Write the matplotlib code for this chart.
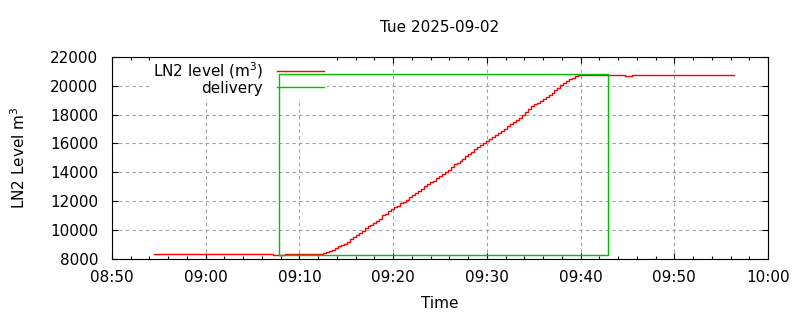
import datetime as dt
import matplotlib
matplotlib.use("Agg")
import matplotlib.pyplot as plt
import matplotlib.dates as mdates
from matplotlib.lines import Line2D

DAY = "2025-09-02"

# LN2 level before the fill (time, m3)
pre_times = ["08:54:29", "09:07:13", "09:08:28"]
pre_values = [8320, 8250, 8320]

# filling ramp, one reading every ~19 s
ramp_start = "09:12:31"
ramp_step_s = 19
ramp_values = [
    8416, 8508, 8577, 8647, 8762, 8878, 8993, 9062, 9201, 9363,
    9501, 9640, 9779, 9963, 10125, 10287, 10356, 10495, 10634, 10795,
    11026, 11141, 11303, 11465, 11603, 11696, 11858, 11950, 12066, 12274,
    12436, 12597, 12736, 12875, 13082, 13198, 13336, 13428, 13613, 13729,
    13867, 14006, 14145, 14376, 14560, 14676, 14814, 14953, 15138, 15277,
    15415, 15600, 15739, 15923, 16062, 16201, 16339, 16478, 16617, 16709,
    16894, 17033, 17218, 17333, 17517, 17656, 17794, 18002, 18187, 18395,
    18580, 18719, 18834, 18972, 19111, 19250, 19388, 19527, 19712, 19850,
    20035, 20174, 20312, 20451, 20543, 20682, 20728,
]

# after the fill
post_times = ["09:40:29", "09:44:44", "09:45:28", "09:56:25"]
post_values = [20770, 20700, 20770, 20770]

# delivery marker
delivery_times = ["09:07:51", "09:07:51", "09:42:54", "09:42:54", "09:07:51"]
delivery_values = [8250, 20800, 20800, 8250, 8250]


def t(s):
    return dt.datetime.strptime(DAY + " " + s, "%Y-%m-%d %H:%M:%S")


level_t = [t(s) for s in pre_times]
level_v = list(pre_values)
t0 = t(ramp_start)
for i, v in enumerate(ramp_values):
    level_t.append(t0 + dt.timedelta(seconds=i * ramp_step_s))
    level_v.append(v)
level_t += [t(s) for s in post_times]
level_v += post_values

deliv_t = [t(s) for s in delivery_times]

plt.rcParams["font.family"] = "DejaVu Sans"
plt.rcParams["font.size"] = 11

fig = plt.figure(figsize=(8, 3.2), dpi=100)
ax = fig.add_axes([0.14, 0.191, 0.82, 0.631])

ax.plot(level_t, level_v, color="#ff0000", lw=1.0, drawstyle="steps-post", zorder=3)
ax.plot(deliv_t, delivery_values, color="#00c000", lw=1.0, zorder=4)

ax.set_xlim(t("08:50:00"), t("10:00:00"))
ax.set_ylim(8000, 22000)
ax.set_yticks(range(8000, 22001, 2000))
ax.xaxis.set_major_locator(mdates.MinuteLocator(byminute=range(0, 60, 10)))
ax.xaxis.set_minor_locator(mdates.MinuteLocator(byminute=range(0, 60, 2)))
ax.xaxis.set_major_formatter(mdates.DateFormatter("%H:%M"))

ax.tick_params(which="both", direction="in", top=True, right=True, width=0.8)
ax.tick_params(which="major", length=4)
ax.tick_params(which="minor", length=2)
ax.tick_params(axis="x", pad=8)
ax.tick_params(axis="y", pad=10)
ax.grid(True, which="major", color="#a0a0a0", linestyle=(0, (3, 3)), lw=0.8, zorder=1)
for s in ax.spines.values():
    s.set_linewidth(0.8)
    s.set_zorder(6)

ax.set_title("Tue 2025-09-02", pad=18, fontsize=11)
ax.set_xlabel("Time", labelpad=8)
ax.set_ylabel("LN2 Level m$^3$", labelpad=16)

handles = [Line2D([], [], color="#ff0000", lw=1.0), Line2D([], [], color="#00c000", lw=1.0)]
leg = ax.legend(handles, ["LN2 level (m$^3$)", "delivery"], loc="upper right",
                bbox_to_anchor=(0.328, 1.0), borderaxespad=0, markerfirst=False,
                frameon=True, fancybox=False, edgecolor="none", facecolor="white",
                framealpha=1, handlelength=3.1, handletextpad=0.9, labelspacing=0.0,
                borderpad=0.2)
leg.set_zorder(2)

fig.savefig("out.png", dpi=100)
